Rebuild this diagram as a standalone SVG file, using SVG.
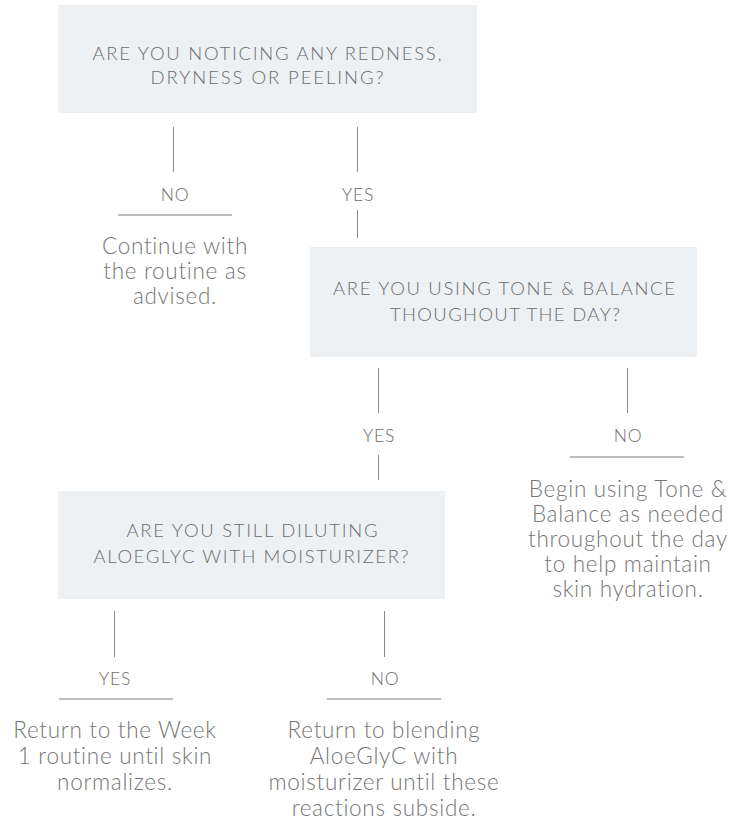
<svg xmlns="http://www.w3.org/2000/svg" width="737" height="825" viewBox="0 0 737 825">
<style>
.box{fill:#eef1f4}
.q{font-family:Lato,"Liberation Sans",sans-serif;font-weight:300;font-size:18.5px;fill:#6b6b6b;text-anchor:middle}
.lbl{font-family:Lato,"Liberation Sans",sans-serif;font-weight:300;font-size:17.5px;fill:#6b6b6b;text-anchor:middle;letter-spacing:0.8px}
.body{font-family:Lato,"Liberation Sans",sans-serif;font-weight:300;font-size:22.5px;fill:#767676;text-anchor:middle;letter-spacing:0.7px}
.v{stroke:#8a8a8a;stroke-width:1;fill:none}
.h{stroke:#a8a8a8;stroke-width:1.5;fill:none}
</style>
<rect width="737" height="825" fill="#fff"/>
<g id="q1">
<rect class="box" x="58" y="5" width="419" height="108"/>
<text class="q" x="267" y="60" textLength="349" lengthAdjust="spacing">ARE YOU NOTICING ANY REDNESS,</text>
<text class="q" x="267" y="84" textLength="233" lengthAdjust="spacing">DRYNESS OR PEELING?</text>
</g>
<g id="q2">
<rect class="box" x="310" y="247" width="387" height="110"/>
<text class="q" x="504" y="295" textLength="342" lengthAdjust="spacing">ARE YOU USING TONE &amp; BALANCE</text>
<text class="q" x="505" y="321" textLength="230" lengthAdjust="spacing">THOUGHOUT THE DAY?</text>
</g>
<g id="q3">
<rect class="box" x="58" y="491" width="387" height="108"/>
<text class="q" x="252" y="537" textLength="251" lengthAdjust="spacing">ARE YOU STILL DILUTING</text>
<text class="q" x="251" y="563" textLength="315" lengthAdjust="spacing">ALOEGLYC WITH MOISTURIZER?</text>
</g>
<g id="a1">
<text class="body" x="175" y="254">Continue with</text>
<text class="body" x="175" y="279">the routine as</text>
<text class="body" x="175" y="304">advised.</text>
</g>
<g id="a2">
<text class="body" x="628" y="497">Begin using Tone &amp;</text>
<text class="body" x="628" y="522">Balance as needed</text>
<text class="body" x="628" y="547">throughout the day</text>
<text class="body" x="628" y="572">to help maintain</text>
<text class="body" x="628" y="597">skin hydration.</text>
</g>
<g id="a3">
<text class="body" x="115" y="738">Return to the Week</text>
<text class="body" x="115" y="764">1 routine until skin</text>
<text class="body" x="115" y="790">normalizes.</text>
</g>
<g id="a4">
<text class="body" x="384" y="738">Return to blending</text>
<text class="body" x="384" y="764">AloeGlyC with</text>
<text class="body" x="384" y="790">moisturizer until these</text>
<text class="body" x="384" y="816">reactions subside.</text>
</g>
<g id="connectors">
<line class="v" x1="173.5" y1="127" x2="173.5" y2="172"/>
<text class="lbl" x="175" y="201">NO</text>
<line class="h" x1="118" y1="215" x2="232" y2="215"/>
<line class="v" x1="357.5" y1="127" x2="357.5" y2="172"/>
<text class="lbl" x="358" y="201">YES</text>
<line class="v" x1="357.5" y1="210" x2="357.5" y2="238"/>
<line class="v" x1="378.5" y1="368" x2="378.5" y2="413"/>
<text class="lbl" x="379" y="442">YES</text>
<line class="v" x1="378.5" y1="455" x2="378.5" y2="480"/>
<line class="v" x1="627.5" y1="368" x2="627.5" y2="413"/>
<text class="lbl" x="628" y="442">NO</text>
<line class="h" x1="570" y1="457" x2="684" y2="457"/>
<line class="v" x1="114.5" y1="611" x2="114.5" y2="657"/>
<text class="lbl" x="115" y="685">YES</text>
<line class="h" x1="59" y1="699" x2="173" y2="699"/>
<line class="v" x1="384.5" y1="611" x2="384.5" y2="657"/>
<text class="lbl" x="385" y="685">NO</text>
<line class="h" x1="327" y1="699" x2="441" y2="699"/>
</g>
</svg>
